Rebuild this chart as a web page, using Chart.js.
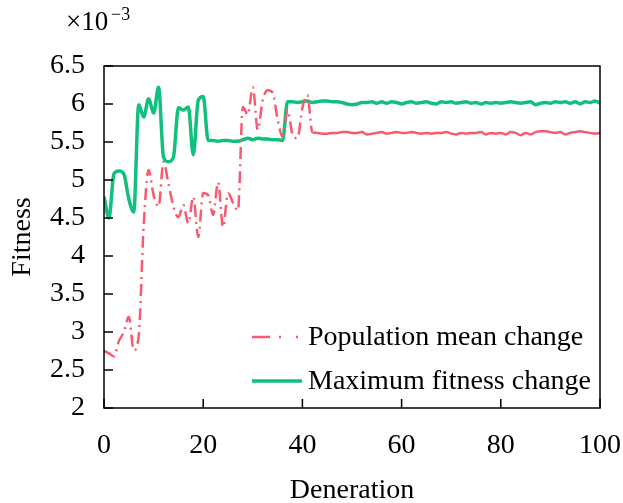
<!DOCTYPE html>
<html>
<head>
<meta charset="utf-8">
<script src="https://cdn.jsdelivr.net/npm/chart.js@4.4.1/dist/chart.umd.min.js"></script>
<style>
  html, body { margin: 0; padding: 0; background: #fff; }
  #wrap { width: 623px; height: 503px; }
</style>
</head>
<body>
<div id="wrap"><canvas id="c"></canvas></div>
<script>
// generation index 0..100
var generations = [];
for (var g = 0; g <= 100; g++) generations.push(g);

// population mean fitness (x1e-3)
var meanFitness = [
  2.75, 2.72, 2.68, 2.88, 3.00, 3.20, 2.76, 2.95, 4.40, 5.13,
  4.80, 4.65, 5.24, 4.95, 4.65, 4.51, 4.67, 4.43, 4.78, 4.25,
  4.83, 4.80, 4.54, 4.97, 4.38, 4.83, 4.70, 4.60, 5.96, 5.86,
  6.22, 5.66, 6.05, 6.18, 6.15, 5.80, 5.57, 5.92, 5.60, 5.55,
  5.95, 6.12, 5.63, 5.62, 5.61, 5.61, 5.62, 5.62, 5.63, 5.63,
  5.62, 5.62, 5.63, 5.60, 5.61, 5.62, 5.63, 5.61, 5.62, 5.63,
  5.62, 5.62, 5.63, 5.62, 5.61, 5.62, 5.61, 5.62, 5.62, 5.63,
  5.61, 5.60, 5.62, 5.61, 5.62, 5.62, 5.63, 5.60, 5.62, 5.61,
  5.62, 5.60, 5.63, 5.62, 5.59, 5.62, 5.60, 5.63, 5.64, 5.64,
  5.63, 5.62, 5.63, 5.60, 5.62, 5.63, 5.64, 5.63, 5.62, 5.61,
  5.62
];

// maximum fitness (x1e-3)
var maxFitness = [
  4.78, 4.50, 5.08, 5.12, 5.08, 4.75, 4.58, 5.99, 5.83, 6.07,
  5.88, 6.22, 5.30, 5.24, 5.30, 5.95, 5.92, 5.96, 5.33, 6.05,
  6.10, 5.52, 5.52, 5.51, 5.52, 5.52, 5.51, 5.51, 5.53, 5.55,
  5.53, 5.55, 5.54, 5.54, 5.53, 5.53, 5.52, 6.03, 6.03, 6.02,
  6.03, 6.04, 6.02, 6.03, 6.04, 6.04, 6.03, 6.03, 6.02, 6.00,
  5.99, 6.00, 6.02, 6.02, 6.03, 6.01, 6.03, 6.01, 6.03, 6.02,
  6.00, 6.02, 6.03, 6.01, 6.02, 6.03, 6.01, 6.00, 6.03, 6.02,
  6.03, 6.01, 6.02, 6.03, 6.01, 6.02, 6.00, 6.02, 6.01, 6.02,
  6.01, 6.02, 6.03, 6.02, 6.01, 6.02, 6.03, 5.99, 6.01, 6.02,
  6.01, 6.03, 6.02, 6.03, 6.01, 6.03, 6.00, 6.03, 6.02, 6.04,
  6.01
];

var yTickLabels = ['2', '2.5', '3', '3.5', '4', '4.5', '5', '5.5', '6', '6.5'];
var xTickLabels = ['0', '20', '40', '60', '80', '100'];

var seriesNames = ['Population mean change', 'Maximum fitness change'];
var redColor = '#F95A70';
var greenColor = '#10C07C';
var serif = '"Liberation Serif", "Times New Roman", serif';

// frame, inward ticks, exponent label, legend
var framePlugin = {
  id: 'frame',
  afterDatasetsDraw: function(chart) {
    var ctx = chart.ctx;
    var a = chart.chartArea;
    var xs = chart.scales.x, ys = chart.scales.y;
    ctx.save();
    ctx.strokeStyle = '#000';
    ctx.lineWidth = 1.5;
    ctx.strokeRect(a.left, a.top, a.right - a.left, a.bottom - a.top);
    ctx.beginPath();
    ys.ticks.forEach(function(t) {
      var py = ys.getPixelForValue(t.value);
      ctx.moveTo(a.left, py);
      ctx.lineTo(a.left + 9, py);
    });
    xs.ticks.forEach(function(t) {
      var px = xs.getPixelForValue(t.value);
      ctx.moveTo(px, a.bottom);
      ctx.lineTo(px, a.bottom - 9);
    });
    ctx.stroke();

    // x10^-3
    ctx.fillStyle = '#000';
    ctx.textBaseline = 'alphabetic';
    ctx.textAlign = 'left';
    ctx.font = '27px ' + serif;
    ctx.fillText('\u00d710', 66, 30);
    ctx.font = '18px ' + serif;
    ctx.fillText('\u22123', 111, 20);

    // legend
    var rows = [337, 381];
    chart.data.datasets.forEach(function(ds, i) {
      var y = rows[i];
      ctx.beginPath();
      ctx.strokeStyle = ds.borderColor;
      ctx.lineWidth = ds.borderWidth;
      ctx.setLineDash(i === 0 ? [18, 9, 2, 15, 2, 20] : []);
      ctx.moveTo(252, y);
      ctx.lineTo(302, y);
      ctx.stroke();
      ctx.setLineDash([]);
      ctx.fillStyle = '#000';
      ctx.font = '28px ' + serif;
      ctx.textBaseline = 'middle';
      ctx.fillText(ds.label, 308, y + 1);
    });
    ctx.restore();
  }
};

var ctx = document.getElementById('c');
new Chart(ctx, {
  type: 'line',
  data: {
    labels: generations,
    datasets: [{
      label: seriesNames[0],
      data: meanFitness,
      borderColor: redColor,
      borderWidth: 2.5,
      pointRadius: 0,
      cubicInterpolationMode: 'monotone',
      segment: {
        borderDash: function(c) { return c.p0DataIndex < 42 ? [12, 5, 2, 5] : []; }
      }
    }, {
      label: seriesNames[1],
      data: maxFitness,
      borderColor: greenColor,
      borderWidth: 3.5,
      pointRadius: 0,
      cubicInterpolationMode: 'monotone'
    }]
  },
  options: {
    responsive: true,
    maintainAspectRatio: false,
    animation: false,
    layout: { padding: { left: 0, right: 23, top: 66, bottom: 0 } },
    plugins: { legend: { display: false }, tooltip: { enabled: false } },
    scales: {
      x: {
        type: 'linear',
        min: 0, max: 100,
        grid: { display: false, drawTicks: false },
        border: { display: false },
        afterFit: function(s) { s.height = 95; s.paddingRight = 0; s.paddingLeft = 0; },
        ticks: {
          stepSize: 20,
          padding: 21,
          color: '#000',
          font: { family: serif, size: 28 },
          maxRotation: 0,
          callback: function(v, i) { return xTickLabels[i]; }
        },
        title: {
          display: true,
          text: 'Deneration',
          color: '#000',
          font: { family: serif, size: 28 },
          padding: { top: 0, bottom: -4 }
        }
      },
      y: {
        min: 2, max: 6.5,
        grid: { display: false, drawTicks: false },
        border: { display: false },
        afterFit: function(s) { s.width = 104; s.paddingTop = 0; s.paddingBottom = 0; },
        ticks: {
          stepSize: 0.5,
          padding: 19,
          color: '#000',
          font: { family: serif, size: 28 },
          callback: function(v, i) { return yTickLabels[i]; }
        },
        title: {
          display: true,
          text: 'Fitness',
          color: '#000',
          font: { family: serif, size: 28 },
          padding: { top: 6, bottom: 0 }
        }
      }
    }
  },
  plugins: [framePlugin]
});
</script>
</body>
</html>
